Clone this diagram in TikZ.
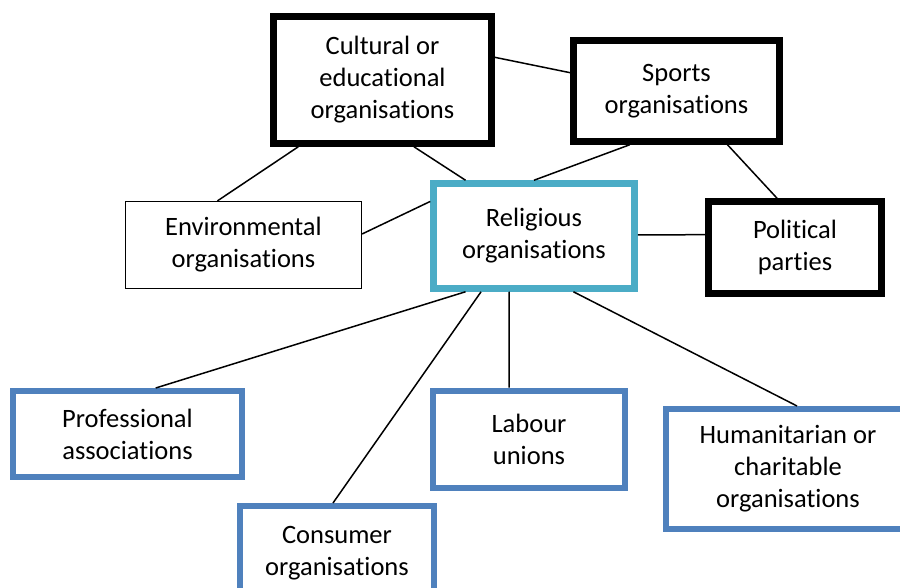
\documentclass[tikz,border=0pt]{standalone}
\usepackage{fontspec}
\setmainfont{Carlito}[Ligatures=NoCommon]
\usetikzlibrary{calc}
\definecolor{tealrim}{HTML}{4BACC6}
\definecolor{bluerim}{HTML}{4F81BD}
\tikzset{
 orgbox/.style={draw,rectangle,align=center,fill=white,inner sep=2pt,
  font=\fontsize{26.5}{32}\selectfont},
 heavybox/.style={orgbox,line width=6.5pt},
 thinbox/.style={orgbox,line width=1.2pt},
 hubbox/.style={orgbox,draw=tealrim,line width=6.5pt},
 bluebox/.style={orgbox,draw=bluerim,line width=6pt},
 link/.style={line width=1.5pt}
}
\begin{document}
\begin{tikzpicture}[x=1pt,y=-1pt]
 \useasboundingbox (0,0) rectangle (900,588);
 % top row
 \node[heavybox,minimum width=218pt,minimum height=127pt] (cult) at (382.5,80) {Cultural or\\educational\\organisations};
 \node[heavybox,minimum width=206pt,minimum height=101pt] (sport) at (676.5,91) {Sports\\organisations};
 % middle row
 \node[thinbox,minimum width=236pt,minimum height=87pt] (env) at (243.5,245) {Environmental\\organisations};
 \node[hubbox,minimum width=201pt,minimum height=105pt] (relig) at (534,236) {Religious\\organisations};
 \node[heavybox,minimum width=173pt,minimum height=92pt] (polit) at (795,247.5) {Political\\parties};
 % bottom row
 \node[bluebox,minimum width=229pt,minimum height=86pt] (prof) at (127.5,434) {Professional\\associations};
 \node[bluebox,minimum width=192pt,minimum height=97pt] (labour) at (529,439) {Labour\\unions};
 \node[bluebox,minimum width=244pt,minimum height=120pt] (human) at (788,469) {Humanitarian or\\charitable\\organisations};
 \node[bluebox,minimum width=194pt,minimum height=94pt] (cons) at (337,553) {Consumer\\organisations};
 % connectors
 \draw[link] ($(cult.north east)!.33!(cult.south east)$) -- ($(sport.north west)!.33!(sport.south west)$);
 \draw[link] ($(cult.south west)!.125!(cult.south east)$) -- ($(env.north west)!.39!(env.north east)$);
 \draw[link] ($(cult.south west)!.64!(cult.south east)$) -- ($(relig.north west)!.17!(relig.north east)$);
 \draw[link] ($(sport.south west)!.28!(sport.south east)$) -- ($(relig.north west)!.5!(relig.north east)$);
 \draw[link] ($(sport.south west)!.74!(sport.south east)$) -- ($(polit.north west)!.4!(polit.north east)$);
 \draw[link] ($(env.north east)!.375!(env.south east)$) -- ($(relig.north west)!.19!(relig.south west)$);
 \draw[link] ($(relig.north east)!.49!(relig.south east)$) -- ($(polit.north west)!.37!(polit.south west)$);
 \draw[link] ($(relig.south west)!.17!(relig.south east)$) -- ($(prof.north west)!.62!(prof.north east)$);
 \draw[link] ($(relig.south west)!.245!(relig.south east)$) -- ($(cons.north west)!.48!(cons.north east)$);
 \draw[link] ($(relig.south west)!.38!(relig.south east)$) -- ($(labour.north west)!.4!(labour.north east)$);
 \draw[link] ($(relig.south west)!.69!(relig.south east)$) -- ($(human.north west)!.536!(human.north east)$);
\end{tikzpicture}
\end{document}
